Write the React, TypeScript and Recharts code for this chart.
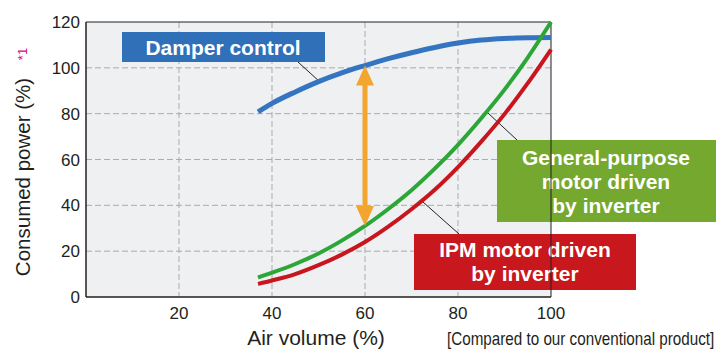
import React from "react";
import {
  LineChart,
  Line,
  XAxis,
  YAxis,
  CartesianGrid,
  ReferenceLine,
  Customized,
} from "recharts";

const airVolume = [37, 40, 45, 50, 55, 60, 65, 70, 75, 80, 85, 90, 95, 100];
const damperControl = [80.8, 84.5, 89.5, 94, 97.8, 101, 104, 106.6, 108.9, 110.8, 112.1, 112.8, 113.1, 113.2];
const generalPurpose = [8.5, 10.6, 14.4, 19, 24.6, 31, 38.4, 46.6, 56, 66.4, 78, 90.5, 104.5, 120];
const ipmMotor = [5.7, 7.2, 10, 13.9, 18.5, 24, 30.7, 38.3, 46.8, 56.7, 67.8, 79.8, 93.3, 108];

const xTicks = [20, 40, 60, 80, 100];
const yTicks = [0, 20, 40, 60, 80, 100, 120];

const gapFrom = 101;
const gapTo = 31;

const data = airVolume.map((x, i) => ({
  x,
  damper: damperControl[i],
  general: generalPurpose[i],
  ipm: ipmMotor[i],
}));

const FONT = "Liberation Sans, Arial, Helvetica, sans-serif";

function GapArrow(props: any) {
  const { x1, y1, y2 } = props;
  const top = Math.min(y1, y2);
  const bot = Math.max(y1, y2);
  const head = 20;
  const half = 9;
  const c = "#f2a630";
  return (
    <g>
      <line x1={x1} y1={top + head - 2} x2={x1} y2={bot - head + 2} stroke={c} strokeWidth={5} />
      <polygon points={`${x1},${top} ${x1 - half},${top + head} ${x1 + half},${top + head}`} fill={c} />
      <polygon points={`${x1},${bot} ${x1 - half},${bot - head} ${x1 + half},${bot - head}`} fill={c} />
    </g>
  );
}

function Labels() {
  const boxText = {
    fill: "#fff",
    fontFamily: FONT,
    fontWeight: 700,
    fontSize: 21,
    textAnchor: "middle" as const,
  };
  return (
    <g>
      {/* leaders */}
      <line x1={298} y1={62} x2={320} y2={82} stroke="#222" strokeWidth={1} />
      <line x1={517} y1={140} x2={488} y2={113} stroke="#222" strokeWidth={1} />
      <line x1={459} y1={234} x2={423} y2={202} stroke="#222" strokeWidth={1} />

      <rect x={122} y={32} width={203} height={30} fill="#3070b8" />
      <text x={223} y={55} {...boxText}>Damper control</text>

      <rect x={497} y={140} width={219} height={82} fill="#74a82e" />
      <text x={606} y={165} {...boxText}>General-purpose</text>
      <text x={606} y={189} {...boxText}>motor driven</text>
      <text x={606} y={213} {...boxText}>by inverter</text>

      <rect x={414} y={234} width={222} height={56} fill="#c9171e" />
      <text x={525} y={257} {...boxText}>IPM motor driven</text>
      <text x={525} y={281} {...boxText}>by inverter</text>

      {/* axis titles */}
      <text
        transform="translate(30,177) rotate(-90)"
        textAnchor="middle"
        fontFamily={FONT}
        fontSize={20.5}
        fill="#231f20"
      >
        Consumed power (%)
      </text>
      <text
        transform="translate(27,54) rotate(-90)"
        textAnchor="middle"
        fontFamily={FONT}
        fontSize={13}
        fill="#e4007f"
      >
        *1
      </text>
      <text x={316} y={345} textAnchor="middle" fontFamily={FONT} fontSize={21} fill="#231f20">
        Air volume (%)
      </text>
      <g transform="translate(447,345) scale(0.83,1)">
        <text
          x={0}
          y={0}
          textLength={322}
          lengthAdjust="spacingAndGlyphs"
          fontFamily={FONT}
          fontSize={18}
          fill="#231f20"
        >
          [Compared to our conventional product]
        </text>
      </g>
    </g>
  );
}

export default function App() {
  return (
    <div style={{ position: "absolute", left: 0, top: 0, width: 720, height: 360, background: "#fff" }}>
      <LineChart
        width={720}
        height={360}
        data={data}
        margin={{ top: 22, right: 169, bottom: 0, left: 0 }}
      >
        <CartesianGrid
          stroke="#a9abae"
          strokeDasharray="6 3"
          fill="#eef0f2"
          verticalValues={[20, 40, 60, 80]}
          horizontalValues={[20, 40, 60, 80, 100]}
        />
        <XAxis
          type="number"
          dataKey="x"
          domain={[0, 100]}
          ticks={xTicks}
          height={63}
          tickSize={0}
          tickMargin={10}
          axisLine={{ stroke: "#231f20", strokeWidth: 1.5 }}
          tick={{ fill: "#231f20", fontSize: 17, fontFamily: FONT }}
        />
        <YAxis
          type="number"
          domain={[0, 120]}
          ticks={yTicks}
          width={86}
          tickSize={0}
          tickMargin={6}
          interval={0}
          axisLine={{ stroke: "#231f20", strokeWidth: 1.5 }}
          tick={{ fill: "#231f20", fontSize: 17, fontFamily: FONT }}
        />
        <ReferenceLine y={120} stroke="#231f20" strokeWidth={1} />
        <ReferenceLine x={100} stroke="#231f20" strokeWidth={1} />
        <Line type="monotone" dataKey="damper" stroke="#3574c0" strokeWidth={5} dot={false} isAnimationActive={false} />
        <Line type="monotone" dataKey="ipm" stroke="#c8161e" strokeWidth={4} dot={false} isAnimationActive={false} />
        <Line type="monotone" dataKey="general" stroke="#2ca637" strokeWidth={4} dot={false} isAnimationActive={false} />
        <ReferenceLine
          segment={[
            { x: 60, y: gapFrom },
            { x: 60, y: gapTo },
          ]}
          shape={GapArrow}
        />
        <Customized component={Labels} />
      </LineChart>
    </div>
  );
}
